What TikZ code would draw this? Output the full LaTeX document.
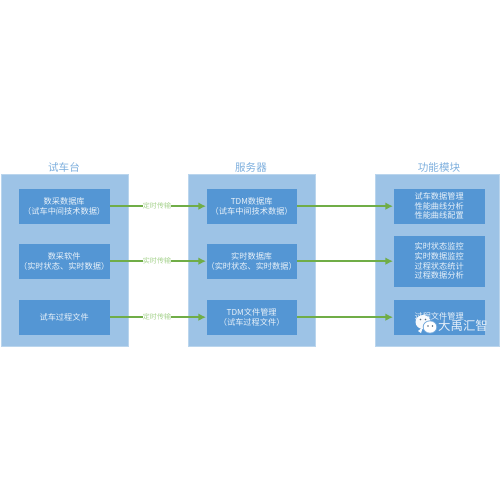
\documentclass[tikz,border=0pt]{standalone}
\usepackage{fontspec}
\setmainfont{Noto Sans CJK SC}
\usetikzlibrary{arrows.meta}
\definecolor{panelc}{RGB}{157,195,230}
\definecolor{boxc}{RGB}{84,150,212}
\definecolor{titlec}{RGB}{125,175,222}
\definecolor{arrowc}{RGB}{112,173,71}
\definecolor{lblc}{RGB}{165,210,140}
\definecolor{wmeye}{RGB}{90,110,130}
\tikzset{
 x=0.03cm,y=-0.03cm,
 panel/.style={fill=panelc,draw=panelc!70!white,line width=0.3pt,inner sep=0},
 inbox/.style={fill=boxc,draw=panelc,line width=0.3pt,text=white!88!boxc,font=\fontsize{7pt}{8.2pt}\selectfont,align=center,inner sep=0},
 ttl/.style={text=titlec,font=\fontsize{9pt}{10pt}\selectfont,inner sep=0},
 flow/.style={arrowc,line width=1.6pt,-{Latex[length=6.5pt,width=6.5pt]}},
 lbl/.style={text=lblc,fill=white,font=\fontsize{6pt}{7pt}\selectfont,inner sep=0.3pt},
 wm/.style={text=white!85!boxc,font=\fontsize{10.6pt}{12pt}\selectfont,inner sep=0},
}
\newcommand{\rbox}[7]{\node[#7,minimum width=#3*0.03cm,minimum height=#4*0.03cm,anchor=north west] (#5) at (#1,#2) {#6};}
\begin{document}
\begin{tikzpicture}
\useasboundingbox (0,0) rectangle (500,500);
\fill[white] (0,0) rectangle (500,500);
\rbox{1}{174}{127}{172}{pa}{}{panel}
\rbox{188}{174}{127}{172}{pb}{}{panel}
\rbox{375}{174}{124}{172}{pc}{}{panel}
\node[ttl] (ta) at (64,167) {试车台};
\node[ttl] (tb) at (251,167) {服务器};
\node[ttl] (tc) at (439,167) {功能模块};
\rbox{18}{188}{92}{36}{a1}{数采数据库\\（试车中间技术数据）}{inbox}
\rbox{18}{243}{92}{36}{a2}{数采软件\\（实时状态、实时数据）}{inbox}
\rbox{18}{299}{92}{36}{a3}{试车过程文件}{inbox}
\rbox{206}{188}{91}{36}{b1}{TDM数据库\\（试车中间技术数据）}{inbox}
\rbox{206}{243}{91}{36}{b2}{实时数据库\\（实时状态、实时数据）}{inbox}
\rbox{206}{299}{91}{36}{b3}{TDM文件管理\\（试车过程文件）}{inbox}
\rbox{393}{188}{92}{36}{c1}{试车数据管理\\性能曲线分析\\性能曲线配置}{inbox}
\rbox{393}{235}{92}{52}{c2}{实时状态监控\\实时数据监控\\过程状态统计\\过程数据分析}{inbox}
\rbox{393}{299}{92}{36}{c3}{\raisebox{1.6pt}{过程文件管理}}{inbox}
\foreach \s/\t in {a1/b1,a2/b2,a3/b3,b1/c1,b2/c2,b3/c3}{\draw[flow] (\s) -- (\t);}
\node[lbl] (l1) at (157,206) {定时传输};
\node[lbl] (l2) at (157,261) {实时传输};
\node[lbl] (l3) at (157,317) {定时传输};
\fill[white,opacity=.95] (423,322) ellipse (7.5 and 7);
\fill[white,opacity=.95] (421,333) -- (418,331) -- (423,327) -- cycle;
\fill[boxc!80!white] (430,327) ellipse (7.3 and 6.6);
\fill[white] (430,327) ellipse (6.3 and 5.7);
\foreach \p in {(420.5,319.5),(425.5,319.5),(428,326),(432.5,326)}{\fill[wmeye] \p circle (0.8);}
\node[wm] (w) at (463,326) {大禹汇智};
\end{tikzpicture}
\end{document}
